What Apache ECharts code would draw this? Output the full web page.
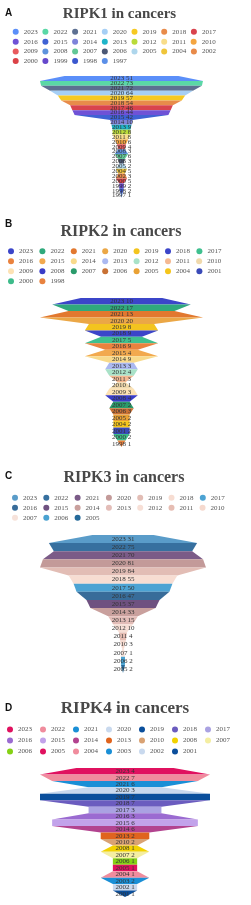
<!DOCTYPE html>
<html><head><meta charset="utf-8">
<script src="https://cdn.jsdelivr.net/npm/echarts@6/dist/echarts.min.js"></script>
<style>
html,body{margin:0;padding:0;background:#fff;width:251px;height:905px;overflow:hidden;}
.p{position:absolute;left:0;width:251px;}
</style></head>
<body>
<div id="cA" class="p" style="top:0;height:215px"></div>
<div id="cB" class="p" style="top:215px;height:240px"></div>
<div id="cC" class="p" style="top:455px;height:225px"></div>
<div id="cD" class="p" style="top:680px;height:225px"></div>
<script>
// ---------- data ----------
const yearsA = ['2023','2022','2021','2020','2019','2018','2017','2016','2015','2014','2013','2012','2011','2010','2009','2008','2007','2006','2005','2004','2002','2000','1999','1998','1997'];
const valuesA = [51,73,72,64,57,54,46,44,42,10,9,8,8,6,4,3,6,3,2,5,3,5,2,2,1];
const colorsA = ['#5B8FF9','#5AD8A6','#5D7092','#A6CFF5','#F6C922','#E88B4A','#D9434D','#6F52D6','#3F62D4','#7E83DA','#1FB5C9','#B9DB3A','#F8DD8A','#F4A541','#E85A5E','#5E93DD','#62C796','#4B5875','#AED6EC','#EFC53A','#E88A4A','#DB4247','#6648CC','#3A57CE','#5B8FE8'];

const yearsB = ['2023','2022','2021','2020','2019','2018','2017','2016','2015','2014','2013','2012','2011','2010','2009','2008','2007','2006','2005','2004','2001','2000','1998'];
const valuesB = [10,17,13,20,8,9,5,9,4,9,3,4,3,1,3,4,2,3,2,2,2,2,1];
const colorsB = ['#3B45C9','#2FA97C','#E2782F','#EBA746','#F3C41E','#3B45C9','#3FC08F','#EA823E','#F2A94E','#F8DA8B','#ABB9F1','#A9E2C8','#F5B992','#F0D9AC','#FDE2B4','#3A3DC7','#2A9B6B','#C87134','#E9A134','#F5C51A','#3A4AB8','#3DBB8A','#E8823F'];

const yearsC = ['2023','2022','2021','2020','2019','2018','2017','2016','2015','2014','2013','2012','2011','2010','2007','2006','2005'];
const valuesC = [31,75,70,81,84,55,50,47,37,33,15,10,4,3,1,2,2];
const colorsC = ['#5A9CC9','#37709F','#7B5B87','#C39A99','#E2BDB5','#F7DDD2','#4CA3D3','#386C99','#6F5180','#C9A09D','#E3BDB8','#F7DFD6','#E6BDB3','#F5D9CE','#F6E2DA','#4AA2D1','#266A9A'];

const yearsD = ['2023','2022','2021','2020','2019','2018','2017','2016','2015','2014','2013','2010','2008','2007','2006','2005','2004','2003','2002','2001'];
const valuesD = [4,7,6,3,7,7,3,3,6,6,2,2,1,2,1,1,1,2,1,1];
const colorsD = ['#E0115F','#F08C9D','#1A8FD6','#C9D9EE','#0B4F9C','#6B5CBF','#AAA2E2','#9B6BD1','#C2A2EA','#B2438F','#E0641E','#D9A273','#F2D200','#F4EEA2','#85D114','#E0115F','#F08C9D','#1A8FD6','#C9D9EE','#0B4F9C'];

// ---------- layout ----------
const SERIF = '"Liberation Serif","Times New Roman",serif';
const panels = [
  {id:'cA', title:'RIPK1 in cancers', letter:'A', years:yearsA, values:valuesA, colors:colorsA,
   titleX:119.5, titleTop:6.5, titleSize:15, letterTop:8,
   legLeft:12.7, legSpacing:31.7, legRows:[32.3,42.3,52,61.5],
   fLeft:40, fTop:76, fWidth:163, fHeight:122},
  {id:'cB', title:'RIPK2 in cancers', letter:'B', years:yearsB, values:valuesB, colors:colorsB,
   titleX:121, titleTop:9, titleSize:16, letterTop:4.5,
   legLeft:8, legSpacing:33.4, legRows:[36.7,46.7,56.7,66.7],
   fLeft:40, fTop:83, fWidth:163, fHeight:149},
  {id:'cC', title:'RIPK3 in cancers', letter:'C', years:yearsC, values:valuesC, colors:colorsC,
   titleX:124, titleTop:15, titleSize:16, letterTop:16,
   legLeft:12, legSpacing:33.3, legRows:[43.3,53.3,63.3],
   fLeft:40, fTop:80, fWidth:166, fHeight:138},
  {id:'cD', title:'RIPK4 in cancers', letter:'D', years:yearsD, values:valuesD, colors:colorsD,
   titleX:125, titleTop:20, titleSize:17, letterTop:23,
   legLeft:7, legSpacing:35, legRows:[50,61,72],
   fLeft:40, fTop:88, fWidth:170, fHeight:129}
];

function build(p){
  const chart = echarts.init(document.getElementById(p.id), null, {renderer:'canvas'});
  const textW = 16, iconW = 6;
  const legends = [];
  for (let r = 0; r * 7 < p.years.length; r++) {
    legends.push({
      data: p.years.slice(r*7, r*7+7),
      left: p.legLeft, top: p.legRows[r] - 4,
      orient:'horizontal', padding:0,
      icon:'circle', itemWidth:iconW, itemHeight:iconW,
      itemGap: p.legSpacing - iconW - 5 - textW,
      selectedMode:false,
      textStyle:{fontSize:7, color:'#555', fontFamily:SERIF, width:textW}
    });
  }
  chart.setOption({
    animation:false,
    backgroundColor:'#fff',
    color:p.colors,
    title:[
      {text:p.title, left:p.titleX, top:p.titleTop, textAlign:'center', padding:0,
       textStyle:{fontFamily:SERIF, fontWeight:'bold', fontSize:p.titleSize, color:'#484848'}},
      {text:p.letter, left:5, top:p.letterTop, padding:0,
       textStyle:{fontFamily:'"Liberation Sans",Arial,sans-serif', fontWeight:'bold', fontSize:10, color:'#111'}}
    ],
    legend:legends,
    series:[{
      type:'funnel', sort:'none', gap:0,
      min:0, max:Math.max.apply(null, p.values), minSize:'0%', maxSize:'100%',
      left:p.fLeft, top:p.fTop, width:p.fWidth, height:p.fHeight, funnelAlign:'center',
      label:{show:true, position:'inside', formatter:'{b} {c}', fontSize:7, color:'#333', fontFamily:SERIF},
      labelLine:{show:false},
      itemStyle:{borderWidth:0},
      emphasis:{disabled:true},
      data:p.years.map((y,i)=>({name:y, value:p.values[i], itemStyle:{color:p.colors[i]}}))
    }]
  });
}
panels.forEach(build);
</script>
</body></html>
